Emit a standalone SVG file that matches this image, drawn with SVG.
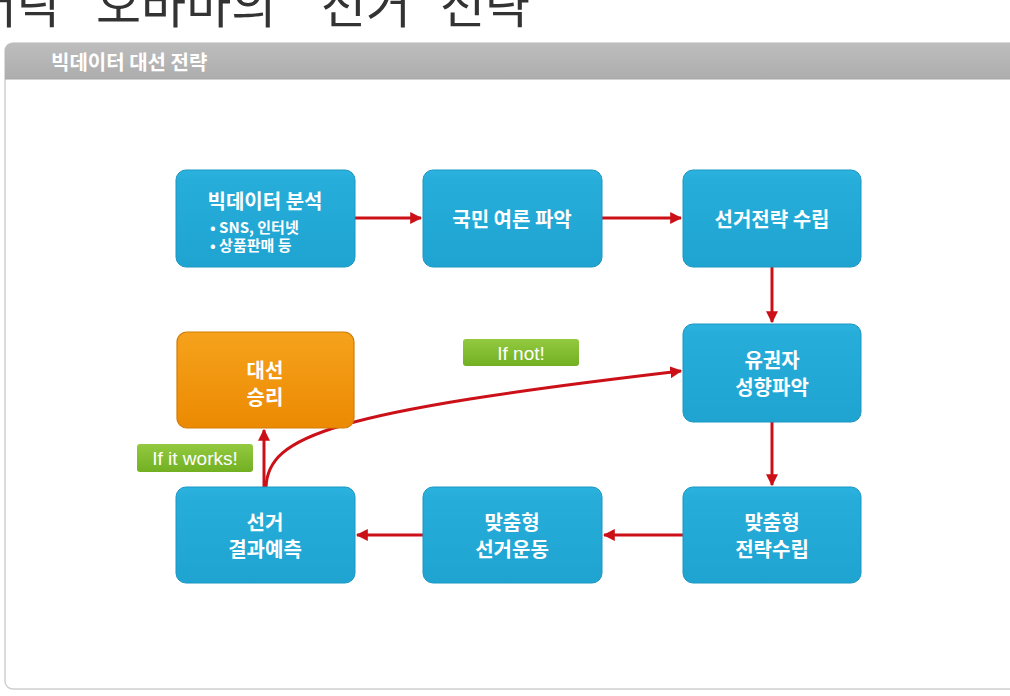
<svg xmlns="http://www.w3.org/2000/svg" width="1010" height="696" viewBox="0 0 1010 696">
<style>
.title{font-family:"Noto Sans CJK KR","Liberation Sans",sans-serif;font-size:49px;fill:#333}
.hdr{font-family:"Noto Sans CJK KR","Liberation Sans",sans-serif;font-size:20px;font-weight:700;fill:#fff}
.box rect.b{fill:url(#blue);stroke:#1b96c2;stroke-width:1}
.lbl{font-family:"Noto Sans CJK KR","Liberation Sans",sans-serif;font-size:20px;font-weight:700;fill:#fff;text-anchor:middle;dominant-baseline:central}
.sub{font-family:"Noto Sans CJK KR","Liberation Sans",sans-serif;font-size:15px;font-weight:700;fill:#fff}
.tag{font-family:"Liberation Sans",sans-serif;font-size:19px;fill:#fff;text-anchor:middle;dominant-baseline:central}
.con{fill:none;stroke:#cc1018;stroke-width:3;marker-end:url(#ah)}
</style>
<defs>
<linearGradient id="blue" x1="0" y1="0" x2="0" y2="1">
<stop offset="0" stop-color="#2bb3df"/>
<stop offset="0.1" stop-color="#27add9"/>
<stop offset="1" stop-color="#1fa4d2"/>
</linearGradient>
<linearGradient id="orange" x1="0" y1="0" x2="0" y2="1">
<stop offset="0" stop-color="#f6a21c"/>
<stop offset="1" stop-color="#ec8a02"/>
</linearGradient>
<linearGradient id="green" x1="0" y1="0" x2="0" y2="1">
<stop offset="0" stop-color="#93c940"/>
<stop offset="1" stop-color="#72b022"/>
</linearGradient>
<linearGradient id="gray" x1="0" y1="0" x2="0" y2="1">
<stop offset="0" stop-color="#bdbdbd"/>
<stop offset="1" stop-color="#adadad"/>
</linearGradient>
<marker id="ah" viewBox="0 0 10 10" refX="9" refY="5" markerWidth="4" markerHeight="4" orient="auto" markerUnits="strokeWidth">
<path d="M0,0 L10,5 L0,10 Z" fill="#cc1018"/>
</marker>
</defs>
<rect width="1010" height="696" fill="#fff"/>
<text class="title" y="23"><tspan x="-28">버락</tspan> <tspan x="96">오바마의</tspan> <tspan x="321">선거</tspan> <tspan x="440">전략</tspan></text>
<g id="panel">
<rect x="5" y="43" width="1030" height="646" rx="8" fill="#fff" stroke="#cfcfcf" stroke-width="1.5"/>
<path d="M5,79 V51 Q5,43 13,43 H1035 V79 Z" fill="url(#gray)"/>
<line x1="5" y1="79" x2="1010" y2="79" stroke="#a5a5a5" stroke-width="1"/>
<text class="hdr" x="51" y="70">빅데이터 대선 전략</text>
</g>
<g id="connectors">
<line class="con" x1="355" y1="218" x2="421" y2="218"/>
<line class="con" x1="602" y1="218" x2="681" y2="218"/>
<line class="con" x1="772" y1="267" x2="772" y2="322"/>
<line class="con" x1="772" y1="422" x2="772" y2="485"/>
<line class="con" x1="683" y1="535" x2="604" y2="535"/>
<line class="con" x1="423" y1="535" x2="357" y2="535"/>
<line class="con" x1="264" y1="487" x2="264" y2="430"/>
<path class="con" d="M266,487 C268,436 330,412 681,371"/>
</g>
<g id="n1" class="box">
<rect class="b" x="176" y="170" width="179" height="97" rx="10"/>
<text class="lbl" x="265" y="200">빅데이터 분석</text>
<text class="sub" x="210" y="233">• SNS, 인터넷</text>
<text class="sub" x="210" y="251">• 상품판매 등</text>
</g>
<g id="n2" class="box">
<rect class="b" x="423" y="170" width="179" height="97" rx="10"/>
<text class="lbl" x="512" y="218">국민 여론 파악</text>
</g>
<g id="n3" class="box">
<rect class="b" x="683" y="170" width="178" height="97" rx="10"/>
<text class="lbl" x="772" y="218">선거전략 수립</text>
</g>
<g id="n4" class="box">
<rect class="b" x="683" y="324" width="178" height="98" rx="10"/>
<text class="lbl" x="772" y="359">유권자</text>
<text class="lbl" x="772" y="386.5">성향파악</text>
</g>
<g id="n5" class="box">
<rect class="b" x="683" y="487" width="178" height="96" rx="10"/>
<text class="lbl" x="772" y="521">맞춤형</text>
<text class="lbl" x="772" y="548.5">전략수립</text>
</g>
<g id="n6" class="box">
<rect class="b" x="423" y="487" width="179" height="96" rx="10"/>
<text class="lbl" x="512" y="521">맞춤형</text>
<text class="lbl" x="512" y="548.5">선거운동</text>
</g>
<g id="n7" class="box">
<rect class="b" x="176" y="487" width="179" height="96" rx="10"/>
<text class="lbl" x="265" y="521">선거</text>
<text class="lbl" x="265" y="548.5">결과예측</text>
</g>
<g id="win">
<rect x="177" y="332" width="177" height="96" rx="10" fill="url(#orange)" stroke="#d27c05" stroke-width="1.2"/>
<text class="lbl" x="265" y="369.5">대선</text>
<text class="lbl" x="265" y="396">승리</text>
</g>
<g id="tag-not">
<rect x="463" y="339" width="116" height="27" rx="3" fill="url(#green)"/>
<text class="tag" x="521" y="353">If not!</text>
</g>
<g id="tag-works">
<rect x="137" y="444" width="116" height="28" rx="3" fill="url(#green)"/>
<text class="tag" x="195" y="458">If it works!</text>
</g>
</svg>
